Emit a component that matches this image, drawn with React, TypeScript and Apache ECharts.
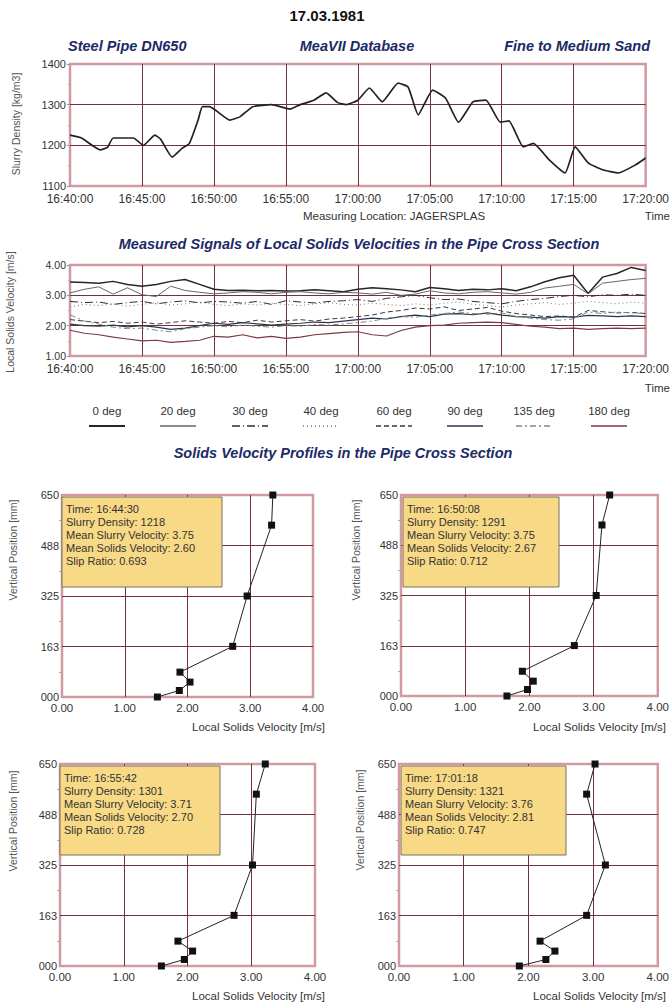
import React, { useEffect, useRef } from "react";
import * as echarts from "echarts";

// ---------- DATA ----------
const densityMinutes = [0, 0.8, 2.1, 2.6, 3, 4.4, 5.1, 5.9, 6.3, 7.1, 7.8, 8.3, 8.9, 9.2, 9.7, 11.1, 11.8, 12.7, 14, 15.3, 16, 16.9, 17.8, 18.6, 19.2, 20, 20.8, 21.7, 22.8, 23.5, 24.2, 25.2, 26.1, 27, 28, 28.9, 29.9, 30.5, 31.5, 32.2, 33.3, 34.4, 35.1, 36, 37, 38.1, 39.3, 40];
const densityValues = [1225, 1218, 1189, 1195, 1218, 1218, 1200, 1225, 1215, 1171, 1193, 1205, 1262, 1295, 1295, 1262, 1270, 1295, 1300, 1289, 1300, 1310, 1329, 1305, 1300, 1311, 1341, 1307, 1353, 1343, 1275, 1336, 1316, 1257, 1307, 1311, 1257, 1260, 1196, 1205, 1164, 1132, 1196, 1157, 1140, 1132, 1152, 1169];

const velMinutes = [0, 1, 2, 3, 4, 5, 6, 7, 8, 9, 10, 11, 12, 13, 14, 15, 16, 17, 18, 19, 20, 21, 22, 23, 24, 25, 26, 27, 28, 29, 30, 31, 32, 33, 34, 35, 36, 37, 38, 39, 40];
const vel0 = [3.44, 3.42, 3.40, 3.46, 3.36, 3.30, 3.36, 3.46, 3.52, 3.36, 3.20, 3.16, 3.17, 3.15, 3.16, 3.14, 3.15, 3.18, 3.15, 3.12, 3.20, 3.25, 3.22, 3.18, 3.12, 3.26, 3.22, 3.16, 3.20, 3.18, 3.22, 3.15, 3.28, 3.45, 3.58, 3.66, 3.06, 3.60, 3.72, 3.92, 3.82];
const vel20 = [3.08, 3.20, 3.28, 3.04, 3.25, 3.02, 2.96, 3.30, 3.16, 3.10, 3.05, 3.08, 3.12, 3.10, 3.05, 3.10, 3.12, 3.08, 3.05, 3.10, 3.08, 3.04, 3.10, 3.00, 3.04, 3.15, 3.08, 3.05, 3.10, 3.12, 3.08, 3.04, 3.10, 3.24, 3.30, 3.36, 3.05, 3.40, 3.46, 3.52, 3.56];
const vel30 = [2.80, 2.76, 2.78, 2.70, 2.76, 2.80, 2.72, 2.78, 2.82, 2.75, 2.80, 2.78, 2.74, 2.80, 2.70, 2.82, 2.78, 2.75, 2.80, 2.82, 2.86, 2.80, 2.90, 2.95, 3.00, 2.92, 2.86, 2.88, 2.80, 2.76, 2.72, 2.80, 2.86, 2.90, 2.96, 3.00, 2.95, 3.02, 3.00, 3.04, 3.00];
const vel40 = [2.62, 2.70, 2.66, 2.72, 2.64, 2.70, 2.76, 2.68, 2.72, 2.78, 2.70, 2.66, 2.72, 2.68, 2.74, 2.70, 2.66, 2.72, 2.76, 2.70, 2.68, 2.74, 2.70, 2.66, 2.72, 2.68, 2.74, 2.78, 2.70, 2.66, 2.62, 2.68, 2.72, 2.76, 2.70, 2.74, 2.80, 2.76, 2.72, 2.78, 2.74];
const vel60 = [2.20, 2.15, 2.10, 2.14, 2.08, 2.12, 2.05, 2.10, 2.16, 2.12, 2.08, 2.14, 2.10, 2.18, 2.12, 2.16, 2.20, 2.15, 2.22, 2.25, 2.30, 2.35, 2.45, 2.50, 2.58, 2.55, 2.62, 2.50, 2.55, 2.60, 2.48, 2.40, 2.35, 2.30, 2.32, 2.28, 2.50, 2.46, 2.42, 2.44, 2.40];
const vel90 = [2.05, 2.00, 1.98, 2.02, 1.96, 2.00, 1.95, 1.88, 1.92, 2.00, 2.08, 2.04, 2.10, 2.06, 2.02, 2.05, 2.08, 2.12, 2.10, 2.15, 2.20, 2.25, 2.22, 2.30, 2.35, 2.30, 2.38, 2.40, 2.36, 2.42, 2.35, 2.30, 2.28, 2.25, 2.30, 2.28, 2.34, 2.32, 2.30, 2.32, 2.30];
const vel135 = [2.36, 2.15, 2.05, 1.95, 1.90, 1.92, 1.85, 1.80, 1.90, 1.95, 2.00, 1.96, 2.02, 1.98, 1.95, 2.00, 1.98, 2.04, 2.02, 2.06, 2.10, 2.15, 2.25, 2.30, 2.28, 2.35, 2.40, 2.45, 2.40, 2.38, 2.42, 2.30, 2.25, 2.20, 2.18, 2.22, 2.45, 2.40, 2.45, 2.42, 2.40];
const vel180 = [1.85, 1.75, 1.70, 1.62, 1.56, 1.50, 1.52, 1.45, 1.48, 1.52, 1.65, 1.62, 1.70, 1.60, 1.65, 1.58, 1.62, 1.70, 1.74, 1.78, 1.80, 1.70, 1.66, 1.84, 1.95, 2.00, 2.02, 2.08, 2.10, 2.12, 2.10, 2.04, 1.98, 1.95, 1.90, 1.92, 1.88, 1.90, 1.92, 1.90, 1.92];
const legendNames = ["0 deg", "20 deg", "30 deg", "40 deg", "60 deg", "90 deg", "135 deg", "180 deg"];

const positions = [650, 553, 325, 163, 80, 48, 21, 0];
const profile1 = [3.36, 3.34, 2.95, 2.72, 1.88, 2.04, 1.87, 1.52];
const profile2 = [3.25, 3.13, 3.04, 2.70, 1.89, 2.06, 1.97, 1.65];
const profile3 = [3.22, 3.08, 3.02, 2.73, 1.85, 2.08, 1.95, 1.59];
const profile4 = [3.03, 2.90, 3.19, 2.90, 2.18, 2.41, 2.27, 1.86];

const info1 = ["Time: 16:44:30", "Slurry Density: 1218", "Mean Slurry Velocity: 3.75", "Mean Solids Velocity: 2.60", "Slip Ratio: 0.693"];
const info2 = ["Time: 16:50:08", "Slurry Density: 1291", "Mean Slurry Velocity: 3.75", "Mean Solids Velocity: 2.67", "Slip Ratio: 0.712"];
const info3 = ["Time: 16:55:42", "Slurry Density: 1301", "Mean Slurry Velocity: 3.71", "Mean Solids Velocity: 2.70", "Slip Ratio: 0.728"];
const info4 = ["Time: 17:01:18", "Slurry Density: 1321", "Mean Slurry Velocity: 3.76", "Mean Solids Velocity: 2.81", "Slip Ratio: 0.747"];

// ---------- STYLE ----------
const FONT = "'Liberation Sans', Arial, Helvetica, sans-serif";
const BLUE = "#1c2a66";
const GRID_LINE = "#74303f";
const BORDER = "#d09aa0";
const TEXT = "#333";

const velStyles = [
  { color: "#262626", width: 1.5, type: "solid" as any },
  { color: "#666666", width: 1, type: "solid" as any },
  { color: "#2e2e2e", width: 1, type: [8, 3, 1, 3] as any },
  { color: "#7a7a7a", width: 1, type: [1, 3] as any },
  { color: "#3a3a3a", width: 1, type: [5, 3] as any },
  { color: "#2c3550", width: 1.2, type: "solid" as any },
  { color: "#6f8f80", width: 1, type: [6, 3, 2, 3] as any },
  { color: "#7a3a45", width: 1.2, type: "solid" as any },
];

const timeLabel = (v: number) => {
  const total = 16 * 60 + 40 + v;
  const h = Math.floor(total / 60);
  const m = total % 60;
  return `${h}:${String(m).padStart(2, "0")}:00`;
};

export default function App() {
  const ref = useRef<HTMLDivElement>(null);
  useEffect(() => {
    document.body.style.margin = "0";
    if (!ref.current) return;
    const chart = echarts.init(ref.current, undefined, { renderer: "svg" });

    const grids = [
      { left: 70, top: 64, width: 578, height: 122 },
      { left: 70, top: 265, width: 578, height: 91 },
      { left: 62, top: 495, width: 251, height: 202 },
      { left: 401, top: 495, width: 257, height: 201 },
      { left: 60, top: 764, width: 255, height: 202 },
      { left: 399, top: 764, width: 260, height: 202 },
    ].map((g) => ({ ...g, show: true, borderColor: BORDER, borderWidth: 2.5, backgroundColor: "#fff", containLabel: false }));

    const split = { show: true, showMinLine: false, showMaxLine: false, lineStyle: { color: GRID_LINE, width: 1 } };
    const label = (fs: number, margin: number, fmt: any) => ({ fontSize: fs, color: TEXT, fontFamily: FONT, margin, formatter: fmt });

    const xAxes: any[] = [
      { gridIndex: 0, type: "value", min: 0, max: 40, interval: 5, axisLabel: label(12, 7, timeLabel), splitLine: split, axisLine: { show: false }, axisTick: { show: false } },
      { gridIndex: 1, type: "value", min: 0, max: 40, interval: 5, axisLabel: label(12, 7, timeLabel), splitLine: split, axisLine: { show: false }, axisTick: { show: false } },
    ];
    const yAxes: any[] = [
      { gridIndex: 0, type: "value", min: 1100, max: 1400, interval: 100, axisLabel: label(11, 4, (v: number) => String(v)), splitLine: split, axisLine: { show: false }, axisTick: { show: true, length: 3, lineStyle: { color: "#999" } }, minorTick: { show: true, splitNumber: 2, length: 2, lineStyle: { color: "#aaa" } } },
      { gridIndex: 1, type: "value", min: 1, max: 4, interval: 1, axisLabel: label(10.5, 4, (v: number) => v.toFixed(2)), splitLine: split, axisLine: { show: false }, axisTick: { show: true, length: 3, lineStyle: { color: "#999" } }, minorTick: { show: true, splitNumber: 2, length: 2, lineStyle: { color: "#aaa" } } },
    ];
    for (let i = 2; i < 6; i++) {
      xAxes.push({ gridIndex: i, type: "value", min: 0, max: 4, interval: 1, axisLabel: label(11.5, 5, (v: number) => v.toFixed(2)), splitLine: split, axisLine: { show: false }, axisTick: { show: false } });
      yAxes.push({ gridIndex: i, type: "value", min: 0, max: 650, interval: 162.5, axisLabel: label(11, 3, (v: number) => (v === 0 ? "000" : String(Math.round(v)))), splitLine: split, axisLine: { show: false }, axisTick: { show: false }, minorTick: { show: true, splitNumber: 2, length: 3, lineStyle: { color: "#aaa" } } });
    }

    const velArrays = [vel0, vel20, vel30, vel40, vel60, vel90, vel135, vel180];
    const series: any[] = [
      {
        type: "line", xAxisIndex: 0, yAxisIndex: 0, symbol: "none", smooth: 0.15,
        lineStyle: { color: "#222", width: 1.7 },
        data: densityMinutes.map((t, i) => [t, densityValues[i]]),
      },
      ...velArrays.map((arr, k) => ({
        type: "line", name: legendNames[k], xAxisIndex: 1, yAxisIndex: 1, symbol: "none",
        lineStyle: velStyles[k],
        data: velMinutes.map((t, i) => [t, arr[i]]),
      })),
      ...[profile1, profile2, profile3, profile4].map((p, k) => ({
        type: "line", xAxisIndex: 2 + k, yAxisIndex: 2 + k, symbol: "rect", symbolSize: 7,
        itemStyle: { color: "#111" }, lineStyle: { color: "#222", width: 1 }, z: 5,
        data: p.map((v, i) => [v, positions[i]]),
      })),
    ];

    const txt = (x: number, y: number, text: string, o: any = {}) => ({
      type: "text", x, y, rotation: o.rotation || 0, z: 10,
      style: {
        text, fill: o.fill || TEXT, fontSize: o.fontSize || 11, fontFamily: FONT,
        fontWeight: o.fontWeight || "normal", fontStyle: o.fontStyle || "normal",
        align: o.align || "center", verticalAlign: o.verticalAlign || "middle",
        lineHeight: o.lineHeight,
      },
    });
    const title = (x: number, y: number, text: string, align = "center") =>
      txt(x, y, text, { fill: BLUE, fontSize: 14.5, fontWeight: "bold", fontStyle: "italic", align });

    const graphics: any[] = [
      txt(327, 15, "17.03.1981", { fill: "#111", fontSize: 15, fontWeight: "bold" }),
      title(68, 46, "Steel Pipe DN650", "left"),
      title(357, 46, "MeaVII Database"),
      title(650, 46, "Fine to Medium Sand", "right"),
      txt(16, 124, "Slurry Density [kg/m3]", { rotation: Math.PI / 2, fontSize: 10.5, fill: "#555" }),
      txt(394, 216, "Measuring Location: JAGERSPLAS", { fontSize: 11.5 }),
      txt(670, 216, "Time", { fontSize: 11.5, align: "right" }),
      title(359, 244, "Measured Signals of Local Solids Velocities in the Pipe Cross Section"),
      txt(10, 312, "Local Solids Velocity [m/s]", { rotation: Math.PI / 2, fontSize: 10.5, fill: "#555" }),
      txt(670, 388, "Time", { fontSize: 11.5, align: "right" }),
      title(343, 453, "Solids Velocity Profiles in the Pipe Cross Section"),
    ];

    const legendX = [107, 178, 250, 321, 394, 465, 534, 609];
    legendNames.forEach((n, k) => {
      const cx = legendX[k];
      graphics.push(txt(cx, 411, n, { fontSize: 11.5 }));
      graphics.push({
        type: "line", z: 10,
        shape: { x1: cx - 18, y1: 426, x2: cx + 18, y2: 426 },
        style: { stroke: velStyles[k].color, lineWidth: velStyles[k].width + 0.3, lineDash: Array.isArray(velStyles[k].type) ? velStyles[k].type : null },
      });
    });

    const panels = [
      { box: [62, 497, 160, 90], info: info1, yname: [13, 550], xname: [325, 727] },
      { box: [403, 497, 156, 90], info: info2, yname: [356, 550], xname: [666, 727] },
      { box: [60, 766, 160, 89], info: info3, yname: [13, 821], xname: [325, 996] },
      { box: [401, 766, 165, 89], info: info4, yname: [360, 820], xname: [666, 996] },
    ];
    panels.forEach((p) => {
      graphics.push({
        type: "rect", z: 9,
        shape: { x: p.box[0], y: p.box[1], width: p.box[2], height: p.box[3] },
        style: { fill: "#f8d985", stroke: "#7a7060", lineWidth: 1 },
      });
      graphics.push(txt(p.box[0] + 4, p.box[1] + 5, p.info.join("\n"), { align: "left", verticalAlign: "top", fontSize: 11, lineHeight: 13, fill: "#333" }));
      graphics.push(txt(p.yname[0], p.yname[1], "Vertical Position [mm]", { rotation: Math.PI / 2, fontSize: 10.5, fill: "#555" }));
      graphics.push(txt(p.xname[0], p.xname[1], "Local Solids Velocity [m/s]", { align: "right", fontSize: 11.5 }));
    });

    chart.setOption({
      animation: false,
      backgroundColor: "#fff",
      grid: grids,
      xAxis: xAxes,
      yAxis: yAxes,
      series,
      graphic: graphics,
    });
    return () => chart.dispose();
  }, []);
  return <div ref={ref} style={{ width: 672, height: 1008 }} />;
}
